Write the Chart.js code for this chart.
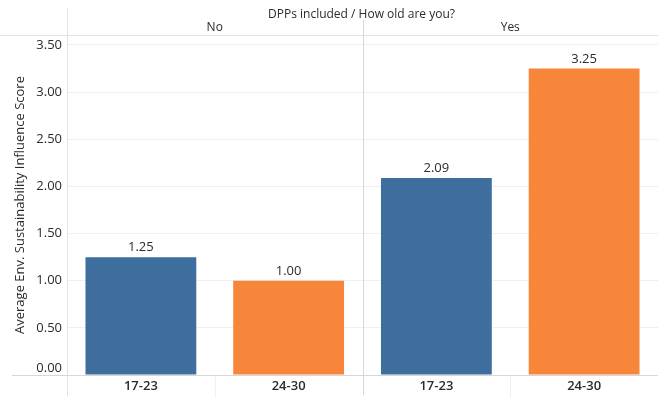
<!DOCTYPE html>
<html>
<head>
<meta charset="utf-8">
<script src="https://cdn.jsdelivr.net/npm/chart.js@4/dist/chart.umd.min.js"></script>
<style>
  html, body { margin: 0; padding: 0; background: #fff; }
  #wrap { width: 658px; height: 398px; position: relative; }
</style>
</head>
<body>
<div id="wrap"><canvas id="c" width="658" height="398"></canvas></div>
<script>
// ---- data ----
const headerTitle = "DPPs included / How old are you?";
const panels = ["No", "Yes"];
const ageGroups = ["17-23", "24-30"];
const noValues = [1.25, 1.00];
const yesValues = [2.09, 3.25];
const yAxisTitle = "Average Env. Sustainability Influence Score";
const yTickValues = [0, 0.5, 1.0, 1.5, 2.0, 2.5, 3.0, 3.5];

const ageColors = ["#3e6e9d", "#f8863a"];
const FONT = "'Open Sans', 'Noto Sans', sans-serif";
const TEXT = "#2b2b2b";

const labels = [];
const values = [];
const colors = [];
[noValues, yesValues].forEach(vals => {
  vals.forEach((v, i) => {
    labels.push(ageGroups[i]);
    values.push(v);
    colors.push(ageColors[i]);
  });
});

const decorPlugin = {
  id: 'decor',
  beforeDatasetsDraw(chart) {
    const ctx = chart.ctx;
    const a = chart.chartArea;
    const x = chart.scales.x;
    const y = chart.scales.y;
    ctx.save();
    ctx.lineWidth = 1;
    const per = ageGroups.length;
    // faint separators in the x label row
    ctx.strokeStyle = '#f0f0f0';
    for (let p = 0; p < panels.length; p++) {
      for (let i = 1; i < per; i++) {
        const idx = p * per + i;
        const xp = Math.round((x.getPixelForValue(idx - 1) + x.getPixelForValue(idx)) / 2) + 0.5;
        ctx.beginPath(); ctx.moveTo(xp, a.bottom); ctx.lineTo(xp, chart.height); ctx.stroke();
      }
    }
    // header line on top of plot
    ctx.strokeStyle = '#e2e2e2';
    ctx.beginPath(); ctx.moveTo(0, a.top + 0.5); ctx.lineTo(chart.width, a.top + 0.5); ctx.stroke();
    // left border line
    ctx.beginPath(); ctx.moveTo(a.left + 0.5, 8); ctx.lineTo(a.left + 0.5, chart.height - 2); ctx.stroke();
    // panel divider
    for (let p = 1; p < panels.length; p++) {
      const idx = p * per;
      const xp = Math.round((x.getPixelForValue(idx - 1) + x.getPixelForValue(idx)) / 2) + 0.5;
      ctx.strokeStyle = '#d8d8d8';
      ctx.beginPath(); ctx.moveTo(xp, 20); ctx.lineTo(xp, chart.height - 3); ctx.stroke();
    }
    // baseline
    const yb = Math.round(y.getPixelForValue(0)) + 0.5;
    ctx.strokeStyle = '#d6d6d6';
    ctx.beginPath(); ctx.moveTo(12, yb); ctx.lineTo(chart.width, yb); ctx.stroke();

    // header texts
    ctx.fillStyle = TEXT;
    ctx.font = "12px " + FONT;
    ctx.textAlign = 'center';
    ctx.textBaseline = 'middle';
    ctx.fillText(headerTitle, (a.left + a.right) / 2 - 1, 15);
    for (let p = 0; p < panels.length; p++) {
      const c = (x.getPixelForValue(p * per) + x.getPixelForValue(p * per + per - 1)) / 2;
      ctx.fillText(panels[p], c, 28);
    }
    // 0.00 label (lifted above the baseline as in the reference)
    ctx.textAlign = 'right';
    ctx.font = "13px " + FONT;
    ctx.fillText(yTickValues[0].toFixed(2), a.left - 5, y.getPixelForValue(0) - 7);
    ctx.restore();
  },
  afterDatasetsDraw(chart) {
    const ctx = chart.ctx;
    const meta = chart.getDatasetMeta(0);
    ctx.save();
    ctx.fillStyle = TEXT;
    ctx.font = "13px " + FONT;
    ctx.textAlign = 'center';
    ctx.textBaseline = 'bottom';
    meta.data.forEach((bar, i) => {
      ctx.fillText(values[i].toFixed(2), bar.x, bar.y - 3);
    });
    ctx.restore();
  }
};

new Chart(document.getElementById('c'), {
  type: 'bar',
  data: {
    labels: labels,
    datasets: [{
      data: values,
      backgroundColor: colors,
      borderWidth: 0,
      barPercentage: 0.75,
      categoryPercentage: 1.0
    }]
  },
  options: {
    responsive: false,
    animation: false,
    devicePixelRatio: 1,
    layout: { padding: { top: 35, right: 0, left: 0, bottom: 0 } },
    plugins: { legend: { display: false }, tooltip: { enabled: false } },
    scales: {
      x: {
        type: 'category',
        grid: { display: false, drawTicks: false },
        border: { display: false },
        ticks: { color: TEXT, font: { family: FONT, size: 13, weight: '600' }, padding: 3, maxRotation: 0 },
        afterFit(s) { s.height = 23; }
      },
      y: {
        min: 0,
        max: 3.606,
        grid: {
          drawTicks: false,
          color: (c) => (c.tick && c.tick.value === 0) ? 'rgba(0,0,0,0)' : '#efefef'
        },
        border: { display: false },
        afterBuildTicks(s) { s.ticks = yTickValues.map(v => ({ value: v })); },
        ticks: {
          color: TEXT,
          font: { family: FONT, size: 13 },
          padding: 5,
          callback: (v) => v === 0 ? '' : Number(v).toFixed(2)
        },
        title: {
          display: true,
          text: yAxisTitle,
          color: TEXT,
          font: { family: FONT, size: 13 },
          padding: { top: 12, bottom: 0 }
        },
        afterFit(s) { s.width = 67; }
      }
    }
  },
  plugins: [decorPlugin]
});
</script>
</body>
</html>
